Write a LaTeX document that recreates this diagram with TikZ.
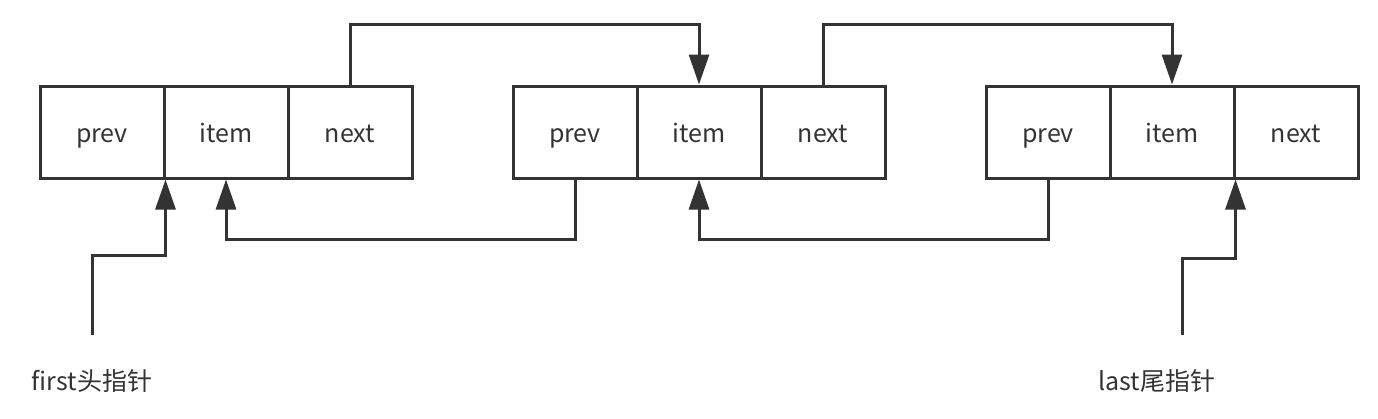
\documentclass[tikz,border=0pt]{standalone}
\usepackage{fontspec}
\setmainfont{Noto Sans CJK SC}
\usepackage{xcolor}
\usetikzlibrary{arrows.meta, positioning}
\definecolor{ink}{HTML}{333333}

\begin{document}
\begin{tikzpicture}[x=1pt, y=-1pt, on grid, node distance=124pt,
    cell/.style={draw=ink, line width=3pt, rectangle, minimum width=124pt,
      minimum height=92pt, inner sep=0pt, font=\fontsize{25}{30}\selectfont,
      text=ink, text height=20pt, text depth=0pt},
    link/.style={draw=ink, line width=3pt, -{Triangle[length=30pt, width=20pt]}},
    label/.style={font=\fontsize{25}{30}\selectfont, text=ink, anchor=base}]
      \useasboundingbox (0,0) rectangle (1378,418);
      % first node
      \node[cell] (n1prev) at (102,132)         {prev};
      \node[cell] (n1item) [right=of n1prev]    {item};
      \node[cell] (n1next) [right=of n1item]    {next};
      % second node
      \node[cell] (n2prev) [right=225pt of n1next] {prev};
      \node[cell] (n2item) [right=of n2prev]    {item};
      \node[cell] (n2next) [right=of n2item]    {next};
      % third node
      \node[cell] (n3prev) [right=225pt of n2next] {prev};
      \node[cell] (n3item) [right=of n3prev]    {item};
      \node[cell] (n3next) [right=of n3item]    {next};
      % head and tail pointers
      \node[label] (firstlbl) at (92,390)   {first头指针};
      \node[label] (lastlbl)  at (1157,390) {last尾指针};
      \coordinate (firstp) at (92,335);
      \coordinate (lastp)  at (1182,335);
      % links
      \draw[link] (n1next.north) -- ++(0,-60) -| (n2item.north);
      \draw[link] (n2next.north) -- ++(0,-60) -| (n3item.north);
      \draw[link] (n2prev.south) -- ++(0,60)  -| (n1item.south);
      \draw[link] (n3prev.south) -- ++(0,60)  -| (n2item.south);
      \draw[link] (firstp) -- ++(0,-80) -| (n1prev.south east);
      \draw[link] (lastp)  -- ++(0,-77) -| (n3item.south east);
    \end{tikzpicture}
\end{document}
